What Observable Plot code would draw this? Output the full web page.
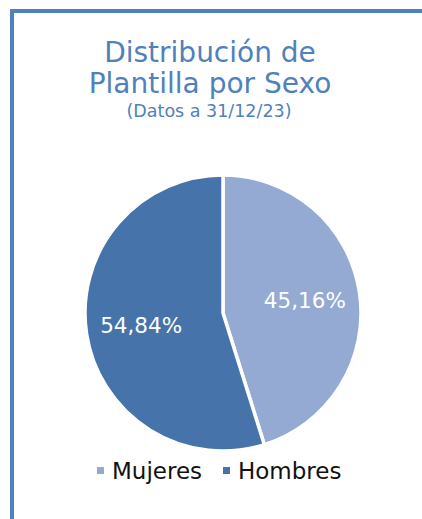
<!DOCTYPE html>
<html><head><meta charset="utf-8">
<script src="https://cdn.jsdelivr.net/npm/d3@7"></script>
<script src="https://cdn.jsdelivr.net/npm/@observablehq/plot@0.6"></script>
<style>
html,body{margin:0;padding:0;background:#fff;width:422px;height:519px;overflow:hidden;font-family:"DejaVu Sans",sans-serif;}
#frame{position:absolute;left:10px;top:9px;width:420px;height:520px;border-left:4px solid #4f81bd;border-top:4px solid #4f81bd;}
.t{position:absolute;left:0;width:420px;text-align:center;color:#4f81bd;font-size:28px;line-height:30px;white-space:nowrap;}
#t1{top:38px;}
#t2{top:69px;}
#sub{position:absolute;left:0;width:418px;top:101px;text-align:center;color:#4f81bd;font-size:17.5px;line-height:20px;}
#chart{position:absolute;left:0;top:170px;}
#legend{position:absolute;top:457px;left:0;width:422px;font-size:23px;line-height:28px;color:#111;}
.item{position:absolute;top:0;white-space:nowrap;}
.sw{display:inline-block;width:7px;height:7px;margin-right:8px;vertical-align:5px;}
</style></head>
<body>
<div id="frame"></div>
<div id="t1" class="t">Distribución de</div>
<div id="t2" class="t">Plantilla por Sexo</div>
<div id="sub">(Datos a 31/12/23)</div>
<div id="chart"></div>
<div id="legend"></div>
<script>
const categories = ["Mujeres", "Hombres"];
const values = [45.16, 54.84];
const labels = ["45,16%", "54,84%"];
const colors = ["#95aad2", "#4674aa"];

const data = categories.map((c, i) => ({sexo: c, valor: values[i], label: labels[i]}));
const W = 422, H = 286;
const R = 138;
const CX = 223;
const pie = d3.pie().sort(null).value(d => d.valor)(data);

function pieMark(index, scales, vals, dims) {
  const g = d3.create("svg:g");
  const cx = scales.x(0), cy = scales.y(0);
  const r = scales.x(R) - scales.x(0);
  const arc = d3.arc().innerRadius(0).outerRadius(r);
  const lab = d3.arc().innerRadius(r * 0.6).outerRadius(r * 0.6);
  const gg = g.append("g").attr("transform", `translate(${cx},${cy})`);
  gg.selectAll("path").data(pie).join("path")
    .attr("d", arc)
    .attr("fill", d => scales.color(d.data.sexo))
    .attr("stroke", "#fff").attr("stroke-width", 3.5);
  gg.selectAll("text").data(pie).join("text")
    .attr("transform", d => `translate(${lab.centroid(d)})`)
    .attr("text-anchor", "middle").attr("dy", "0.36em")
    .attr("fill", "#fff").attr("font-size", 21.5)
    .attr("font-family", "'DejaVu Sans',sans-serif")
    .text(d => d.data.label);
  return g.node();
}

const plot = Plot.plot({
  width: W, height: H,
  margin: 0,
  x: {domain: [-CX, W - CX], axis: null},
  y: {domain: [-H/2 + 0, H/2 + 0], axis: null},
  color: {domain: categories, range: colors},
  marks: [pieMark]
});
document.getElementById("chart").appendChild(plot);

const leg = document.getElementById("legend");
const lx = [97, 223];
categories.forEach((c, i) => {
  const it = document.createElement("div");
  it.className = "item"; it.style.left = lx[i] + "px";
  it.innerHTML = `<span class="sw" style="background:${colors[i]}"></span>${c}`;
  leg.appendChild(it);
});
</script>
</body></html>
